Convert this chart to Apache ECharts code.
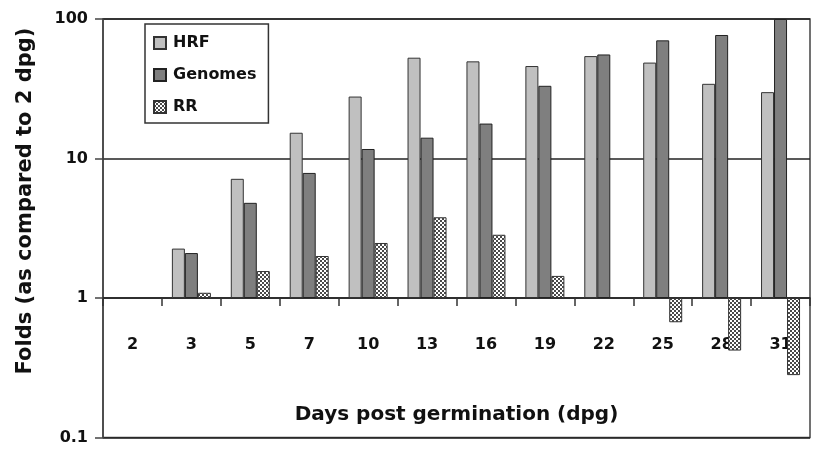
<!DOCTYPE html>
<html>
<head>
<meta charset="utf-8">
<script src="https://cdn.jsdelivr.net/npm/echarts@6/dist/echarts.min.js"></script>
<style>
html,body{margin:0;padding:0;background:#fff;}
#chart{width:815px;height:453px;}
</style>
</head>
<body>
<div id="chart"></div>
<script>
// Categories: days post germination
var categories = ['2', '3', '5', '7', '10', '13', '16', '19', '22', '25', '28', '31'];
// Fold changes relative to 2 dpg
var hrf     = [null, 2.26, 7.15, 15.3, 27.8, 52.8, 49.7, 46.0, 54.2, 48.7, 34.3, 29.9];
var genomes = [null, 2.10, 4.81, 7.88, 11.7, 14.1, 17.8, 33.2, 55.7, 70.3, 76.8, 100];
var rr      = [null, 1.09, 1.56, 2.00, 2.48, 3.79, 2.84, 1.44, null, 0.67, 0.42, 0.28];
var yTicks  = [0.1, 1, 10, 100];

var FONT = 'DejaVu Sans';

// checker pattern for RR
var pc = document.createElement('canvas');
pc.width = 4; pc.height = 4;
var pctx = pc.getContext('2d');
pctx.fillStyle = '#ffffff'; pctx.fillRect(0, 0, 4, 4);
pctx.fillStyle = '#4a4a4a';
pctx.fillRect(0, 0, 2, 2);
pctx.fillRect(2, 2, 2, 2);

var chart = echarts.init(document.getElementById('chart'), null, {renderer: 'canvas'});

var gridTop = 19, decade = 139.5;
var gridBottom = 453 - (gridTop + 3 * decade);

var option = {
  animation: false,
  backgroundColor: '#ffffff',
  grid: {
    left: 103, right: 5, top: gridTop, bottom: gridBottom,
    show: true, borderColor: '#444', borderWidth: 1.5,
    containLabel: false
  },
  legend: {
    orient: 'vertical',
    left: 145, top: 24,
    padding: [11, 12, 8, 8],
    itemGap: 16,
    itemWidth: 12, itemHeight: 12,
    icon: 'rect',
    borderColor: '#333', borderWidth: 1.5,
    backgroundColor: '#fff',
    textStyle: {fontFamily: FONT, fontWeight: 'bold', fontSize: 16, color: '#111', padding: [0, 0, 0, 2]},
    data: ['HRF', 'Genomes', 'RR']
  },
  xAxis: {
    type: 'category',
    data: categories,
    position: 'bottom',
    offset: -decade,
    axisLine: {show: true, onZero: false, lineStyle: {color: '#222', width: 1.5}},
    axisTick: {show: true, length: 8, inside: false, lineStyle: {color: '#333', width: 1.5}},
    axisLabel: {margin: 39, fontFamily: FONT, fontWeight: 'bold', fontSize: 16, color: '#111'},
    splitLine: {show: false},
    name: 'Days post germination (dpg)',
    nameLocation: 'middle',
    nameGap: 107,
    nameTextStyle: {fontFamily: FONT, fontWeight: 'bold', fontSize: 20, color: '#111'}
  },
  yAxis: {
    type: 'log',
    logBase: 10,
    min: yTicks[0],
    max: yTicks[yTicks.length - 1],
    axisLine: {show: true, lineStyle: {color: '#444', width: 1.5}},
    axisTick: {show: true, length: 8, inside: false, lineStyle: {color: '#444', width: 1.5}},
    axisLabel: {
      margin: 15, fontFamily: FONT, fontWeight: 'bold', fontSize: 16, color: '#111',
      formatter: function (v) { return String(+v.toPrecision(3)); }
    },
    splitLine: {show: true, lineStyle: {color: '#222', width: 1.5}},
    minorTick: {show: false}
  },
  graphic: [{
    type: 'text',
    x: 26, y: 201,
    rotation: Math.PI / 2,
    style: {
      text: 'Folds (as compared to 2 dpg)',
      fontFamily: FONT, fontWeight: 'bold', fontSize: 21,
      fill: '#111', align: 'center', verticalAlign: 'middle'
    }
  }],
  series: [
    {
      name: 'HRF', type: 'bar', data: hrf, barWidth: 13, barGap: '0%',
      itemStyle: {color: '#c0c0c0', borderColor: '#333', borderWidth: 1}
    },
    {
      name: 'Genomes', type: 'bar', data: genomes, barWidth: 13, barGap: '0%',
      itemStyle: {color: '#7f7f7f', borderColor: '#222', borderWidth: 1}
    },
    {
      name: 'RR', type: 'bar', data: rr, barWidth: 13, barGap: '0%',
      itemStyle: {color: {image: pc, repeat: 'repeat'}, borderColor: '#333', borderWidth: 1}
    }
  ]
};
chart.setOption(option);
</script>
</body>
</html>
